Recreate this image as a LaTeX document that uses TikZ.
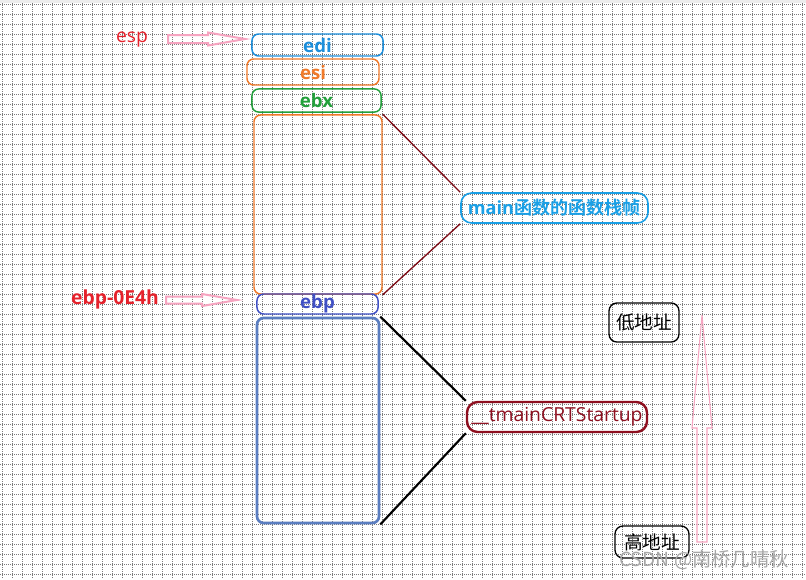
\documentclass[tikz,border=0pt]{standalone}
\usepackage{fontspec}
\setmainfont{Open Sans}
\newfontfamily\cjk{Noto Sans CJK SC}[BoldFont={Noto Sans CJK SC Bold}]
\usepackage{tikz}
\usepackage{xcolor}
\usetikzlibrary{calc}
\definecolor{gridink}{HTML}{7A7A7A}
\definecolor{topstrip}{HTML}{ECECEC}
\definecolor{ediblue}{HTML}{1C8FDC}
\definecolor{esiorange}{HTML}{F07A2A}
\definecolor{ebxgreen}{HTML}{23A03C}
\definecolor{ebpblue}{HTML}{4050C4}
\definecolor{callerblue}{HTML}{5B7EC0}
\definecolor{tagcyan}{HTML}{1AA0E6}
\definecolor{darkred}{HTML}{7D0C16}
\definecolor{crtred}{HTML}{8E1020}
\definecolor{labelred}{HTML}{E5222C}
\definecolor{arrowpink}{HTML}{F6A4C0}
\definecolor{markgray}{HTML}{A8A8A8}
\tikzset{
  gridline/.style={gridink, line width=0.6pt, dash pattern=on 0.75pt off 0.75pt},
  regbox/.style={
    rounded corners=5pt, line width=1.1pt, inner sep=0pt,
    font=\bfseries\fontsize{14}{16}\selectfont
  },
  stackbox/.style={rounded corners=5pt, line width=1.1pt, inner sep=0pt},
  tagbox/.style={
    rounded corners=8pt, line width=1.2pt, inner sep=0pt,
    font=\fontsize{14.5}{16}\selectfont
  },
  addrbox/.style={
    draw=black, rounded corners=6pt, line width=1pt, inner sep=0pt,
    font=\cjk\fontsize{14}{16}\selectfont
  },
  redtag/.style={labelred, inner sep=0pt, font=\fontsize{14.5}{16}\selectfont},
  hollowarrow/.style={draw=arrowpink, line width=1.5pt, line join=miter}
}
\begin{document}
\begin{tikzpicture}[x=0.75pt,y=-0.75pt]
  \useasboundingbox (0,0) rectangle (806,579);
  \fill[white] (0,0) rectangle (806,579);
  \fill[topstrip] (0,0) rectangle (806,3);
  % dotted background grid
  \foreach \gx in {0,...,80} {
    \draw[gridline] (2.5+10*\gx,3) -- (2.5+10*\gx,579);
  }
  \foreach \gy in {0,...,57} {
    \draw[gridline] (0,4.5+10*\gy) -- (806,4.5+10*\gy);
  }

  % stack cells
  \node[regbox, draw=ediblue, text=ediblue, minimum width=98.3pt, minimum height=16.5pt] (edi) at (317.5,45) {edi};
  \node[regbox, draw=esiorange, text=esiorange, minimum width=99pt, minimum height=19.5pt] (esi) at (313,72) {esi};
  \node[regbox, draw=ebxgreen, text=ebxgreen, minimum width=96.8pt, minimum height=17.3pt] (ebx) at (316.5,100.5) {ebx};
  \node[stackbox, draw=esiorange, minimum width=96pt, minimum height=134.3pt] (frame) at (318,204.5) {};
  \node[regbox, draw=ebpblue, text=ebpblue, minimum width=90.8pt, minimum height=15pt] (ebp) at (317.5,304) {ebp};
  \node[stackbox, draw=callerblue, line width=2pt, minimum width=91.5pt, minimum height=153.8pt] (caller) at (318,420.5) {};

  % register pointers
  \node[redtag] (esp) at (132,40) {esp};
  \node[redtag, font=\bfseries\fontsize{14.5}{16}\selectfont] (ebpoff) at (115,299) {ebp-0E4h};
  \draw[hollowarrow] (168,35) -- (208,35) -- (208,32.5) -- (245,39) -- (208,45.5) -- (208,43) -- (168,43) -- cycle;
  \draw[hollowarrow] (166,296.5) -- (202,296.5) -- (202,294) -- (237,300) -- (202,306) -- (202,303.5) -- (166,303.5) -- cycle;

  % frame labels
  \node[tagbox, draw=tagcyan, text=tagcyan, font=\bfseries\fontsize{13.6}{15}\selectfont, minimum width=140.3pt, minimum height=22.5pt] (mainlbl) at (554.5,208) {main{\cjk 函数的函数栈帧}};
  \node[tagbox, draw=crtred, text=crtred, line width=1.8pt, minimum width=135pt, minimum height=22.5pt] (crtlbl) at (557,417) {\_\_tmainCRTStartup};
  \draw[darkred, line width=1pt] (frame.north east) -- (mainlbl.north west);
  \draw[darkred, line width=1pt] (frame.south east) -- (mainlbl.south west);
  \draw[black, line width=1.6pt] (caller.north east) -- (crtlbl.north west);
  \draw[black, line width=1.6pt] (caller.south east) -- (crtlbl.south west);

  % address direction
  \node[addrbox, minimum width=52.5pt, minimum height=29.3pt] (low) at (644,322.5) {低地址};
  \node[addrbox, minimum width=55.5pt, minimum height=24pt] (high) at (652,542) {高地址};
  \draw[hollowarrow, line width=0.8pt] (697,542) -- (697,428) -- (692,428) -- (702,315) -- (712,428) -- (707,428) -- (707,542) -- cycle;

  \node[markgray, inner sep=0pt, font=\cjk\fontsize{14.5}{16}\selectfont] (mark) at (704,560) {CSDN @南桥几晴秋};
\end{tikzpicture}
\end{document}
